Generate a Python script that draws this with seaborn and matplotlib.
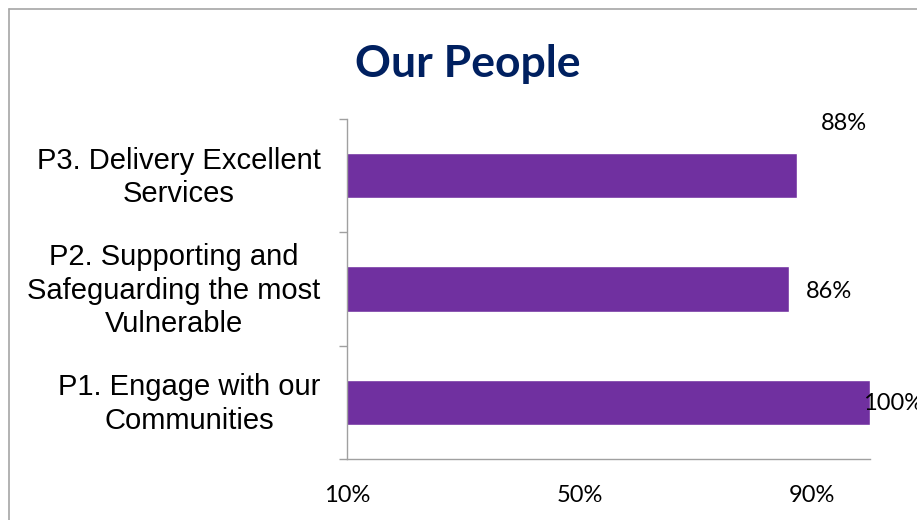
import matplotlib
matplotlib.use("Agg")
import matplotlib.pyplot as plt
from matplotlib.lines import Line2D
from matplotlib.ticker import FuncFormatter
from matplotlib.transforms import ScaledTranslation
import seaborn as sns
import pandas as pd

# ---- data ----
categories = [
    "P3. Delivery Excellent\nServices",
    "P2. Supporting and\nSafeguarding the most\nVulnerable",
    "P1. Engage with our\nCommunities",
]
values = [87.5, 86, 100]
value_labels = ["88%", "86%", "100%"]
x_ticks = [10, 50, 90]
title = "Our People"

# label offsets (pixels) as placed in the original
label_offsets = [(24, 52), (17, -2), (-7, -1)]

sns.set_theme(style="white")
plt.rcParams["font.family"] = ["Liberation Sans", "DejaVu Sans"]

W, H = 917, 520
fig = plt.figure(figsize=(W / 100, H / 100), dpi=100)
fig.patch.set_facecolor("white")

left, right, top, bottom = 347, 870, 119, 459
ax = fig.add_axes([left / W, 1 - bottom / H, (right - left) / W, (bottom - top) / H])

df = pd.DataFrame({"cat": categories, "val": values})
sns.barplot(data=df, x="val", y="cat", orient="h", color="#7030A0",
            width=0.4, saturation=1, ax=ax, order=categories)

ax.set_xlim(10, 100)
ax.set_ylim(len(categories) - 0.5, -0.5)
ax.set_xlabel("")
ax.set_ylabel("")

grey = "#A0A0A0"
for s in ["top", "right"]:
    ax.spines[s].set_visible(False)
for s in ["left", "bottom"]:
    ax.spines[s].set_color(grey)
    ax.spines[s].set_linewidth(1.0)

ax.set_xticks(x_ticks)
ax.xaxis.set_major_formatter(FuncFormatter(lambda v, p: f"{v:.0f}%"))
ax.tick_params(axis="x", direction="out", length=6, width=1, color=grey,
               pad=13, labelsize=17, labelcolor="black")
for lab in ax.get_xticklabels():
    lab.set_fontfamily(["Lato", "DejaVu Sans"])

ax.set_yticks(range(len(categories)))
ax.set_yticklabels(categories, fontsize=21, color="black",
                   multialignment="center", linespacing=1.25)
ax.set_yticks([i - 0.5 for i in range(len(categories) + 1)], minor=True)
ax.tick_params(axis="y", which="major", length=0, pad=19)
ax.tick_params(axis="y", which="minor", direction="out", length=6, width=1,
               color=grey, left=True)
ax.grid(False)
shift = ScaledTranslation(0, 4 / 100, fig.dpi_scale_trans)
for lab in ax.get_yticklabels():
    lab.set_transform(lab.get_transform() + shift)

for i, (v, lab, off) in enumerate(zip(values, value_labels, label_offsets)):
    ax.annotate(lab, xy=(v, i), xytext=off, textcoords="offset pixels",
                ha="left", va="center", fontsize=17,
                fontfamily=["Lato", "DejaVu Sans"], color="black",
                annotation_clip=False)

fig.text(468 / W, 1 - 77 / H, title, ha="center", va="baseline",
         fontsize=32, fontweight="bold", color="#002060",
         fontfamily=["Lato", "DejaVu Sans"])

# chart border (left and top edges visible)
bx, by = 8.5 / W, 1 - 8.5 / H
fig.add_artist(Line2D([bx, bx], [0, by], color="#A6A6A6", lw=1.2,
                      transform=fig.transFigure))
fig.add_artist(Line2D([bx, 1], [by, by], color="#A6A6A6", lw=1.2,
                      transform=fig.transFigure))

fig.savefig("out.png", dpi=100, facecolor="white")
